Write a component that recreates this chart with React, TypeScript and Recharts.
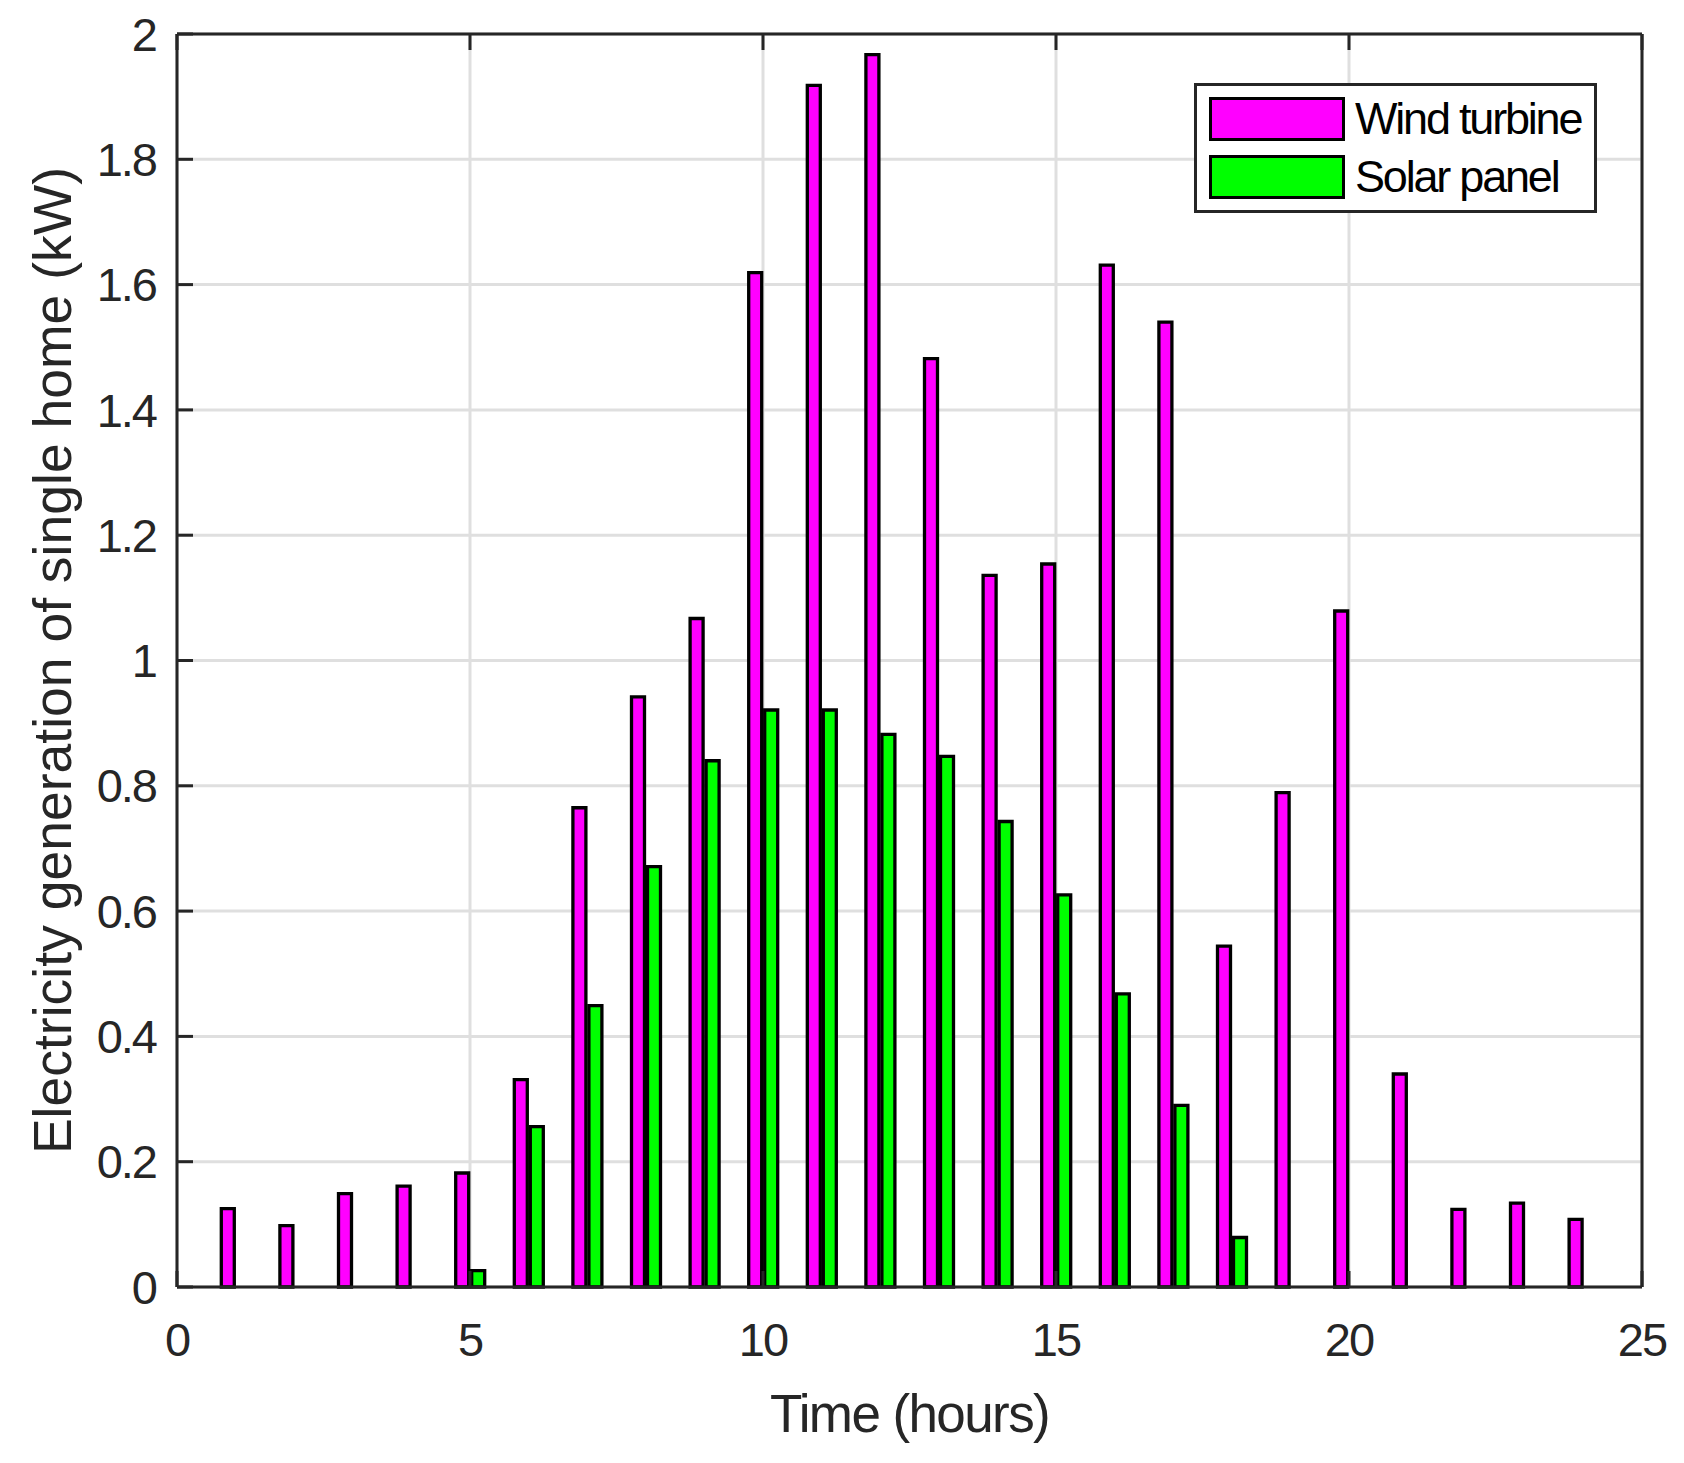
import React from 'react';
import {
  BarChart,
  Bar,
  XAxis,
  YAxis,
  CartesianGrid,
  Legend,
} from 'recharts';

// hourly generation of a single home (kW)
const hours = [1, 2, 3, 4, 5, 6, 7, 8, 9, 10, 11, 12, 13, 14, 15, 16, 17, 18, 19, 20, 21, 22, 23, 24];
const windTurbine = [
  0.125, 0.098, 0.149, 0.161, 0.182, 0.331, 0.765, 0.942, 1.067, 1.619, 1.918, 1.967,
  1.482, 1.136, 1.154, 1.631, 1.54, 0.544, 0.789, 1.079, 0.34, 0.124, 0.134, 0.108,
];
const solarPanel = [
  0, 0, 0, 0, 0.026, 0.256, 0.449, 0.671, 0.84, 0.921, 0.921, 0.882,
  0.847, 0.743, 0.626, 0.468, 0.29, 0.079, 0, 0, 0, 0, 0, 0,
];
const seriesNames = ['Wind turbine', 'Solar panel'];
const xTicks = [0, 5, 10, 15, 20, 25];
const yTicks = [0, 0.2, 0.4, 0.6, 0.8, 1, 1.2, 1.4, 1.6, 1.8, 2];

const data = hours.map((hour, i) => ({
  hour,
  wind: windTurbine[i],
  solar: solarPanel[i],
}));

const AXIS = '#262626';
const GRID = '#dfdfdf';
const axisLine = { stroke: AXIS, strokeWidth: 3 };
const tickLine = { stroke: AXIS, strokeWidth: 3 };

// tick marks only, no labels
const NoLabel = () => <g />;

const LegendBox = ({ payload }: any) => {
  const items = [...(payload || [])].sort(
    (a: any, b: any) => seriesNames.indexOf(a.value) - seriesNames.indexOf(b.value)
  );
  return (
    <div
      style={{
        position: 'relative',
        width: 403,
        height: 130,
        boxSizing: 'border-box',
        border: `3px solid ${AXIS}`,
        background: '#fff',
      }}
    >
      {items.map((entry: any, i: number) => (
        <div
          key={entry.value}
          style={{
            position: 'absolute',
            left: 12,
            top: 11 + i * 58,
            height: 44,
            display: 'flex',
            alignItems: 'center',
          }}
        >
          <div
            style={{
              width: 136,
              height: 44,
              boxSizing: 'border-box',
              border: '3px solid #000',
              background: entry.color,
            }}
          />
          <span
            style={{
              marginLeft: 10,
              fontSize: 45,
              letterSpacing: -2.2,
              lineHeight: '44px',
              color: '#000',
              whiteSpace: 'nowrap',
            }}
          >
            {entry.value}
          </span>
        </div>
      ))}
    </div>
  );
};

export default function App() {
  return (
    <div
      style={{
        position: 'absolute',
        left: 0,
        top: 0,
        width: 1684,
        height: 1463,
        background: '#fff',
        fontFamily: '"Liberation Sans", Arial, Helvetica, sans-serif',
      }}
    >
      <BarChart
        width={1684}
        height={1463}
        data={data}
        barGap={3}
        margin={{ top: 34, right: 0, bottom: 0, left: 0 }}
      >
        <CartesianGrid xAxisId="x" yAxisId="y" stroke={GRID} strokeWidth={3} />
        <Bar
          xAxisId="x"
          yAxisId="y"
          dataKey="wind"
          name={seriesNames[0]}
          fill="#ff00ff"
          stroke="#000"
          strokeWidth={3.3}
          barSize={13}
          isAnimationActive={false}
        />
        <Bar
          xAxisId="x"
          yAxisId="y"
          dataKey="solar"
          name={seriesNames[1]}
          fill="#00ff00"
          stroke="#000"
          strokeWidth={3.3}
          barSize={13}
          isAnimationActive={false}
        />
        {/* bottom axis: labels outside, ticks pointing in */}
        <XAxis
          xAxisId="x"
          type="number"
          dataKey="hour"
          domain={[0, 25]}
          ticks={xTicks}
          interval={0}
          height={176}
          axisLine={axisLine}
          tickLine={tickLine}
          tickSize={-16}
          tickMargin={52}
          tick={{ fontSize: 47, fill: AXIS, letterSpacing: -2 }}
          label={{
            value: 'Time (hours)',
            position: 'insideBottom',
            offset: 31,
            fontSize: 53,
            fill: AXIS,
            letterSpacing: -1.6,
          }}
        />
        <XAxis
          xAxisId="xt"
          orientation="top"
          type="number"
          dataKey="hour"
          domain={[0, 25]}
          ticks={xTicks}
          interval={0}
          mirror
          tick={NoLabel}
          axisLine={axisLine}
          tickSize={16}
          tickLine={tickLine}
        />
        <YAxis
          yAxisId="y"
          type="number"
          domain={[0, 2]}
          ticks={yTicks}
          interval={0}
          width={177}
          axisLine={axisLine}
          tickLine={tickLine}
          tickSize={-16}
          tickMargin={37}
          tickFormatter={(v: number) => String(v)}
          tick={{ fontSize: 47, fill: AXIS, letterSpacing: -2 }}
          label={{
            value: 'Electricity generation of single home (kW)',
            angle: -90,
            position: 'insideLeft',
            offset: 52,
            fontSize: 53.5,
            fill: AXIS,
            style: { textAnchor: 'middle' },
          }}
        />
        <YAxis
          yAxisId="yr"
          orientation="right"
          type="number"
          domain={[0, 2]}
          ticks={yTicks}
          interval={0}
          width={42}
          tick={NoLabel}
          axisLine={axisLine}
          tickSize={-16}
          tickLine={tickLine}
        />
        <Legend
          layout="horizontal"
          verticalAlign="middle"
          align="center"
          content={<LegendBox />}
          wrapperStyle={{ left: 1194, top: 83, width: 403, height: 130 }}
        />
      </BarChart>
    </div>
  );
}
